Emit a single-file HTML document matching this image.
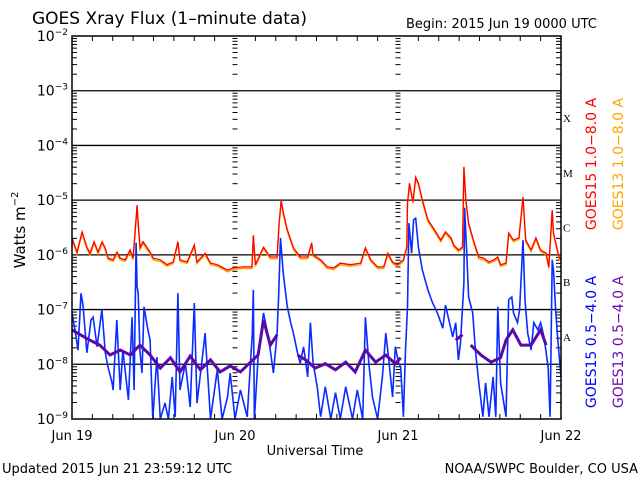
<!DOCTYPE html>
<html><head><meta charset="utf-8">
<style>
html,body{margin:0;padding:0;background:#fff;}
svg{display:block;font-family:"DejaVu Sans","Liberation Sans",sans-serif;}
</style></head>
<body>
<svg id="chart" width="640" height="480" viewBox="0 0 640 480">
<rect x="0" y="0" width="640" height="480" fill="#fff"/>
<text x="32" y="24" font-size="17" fill="#000">GOES Xray Flux (1–minute data)</text>
<text x="406" y="28" font-size="13" fill="#000">Begin:  2015 Jun 19 0000 UTC</text>
<text transform="translate(25,230) rotate(-90)" text-anchor="middle" font-size="15" fill="#000">Watts m<tspan font-size="10" dy="-7">−2</tspan></text>
<text x="315" y="455" text-anchor="middle" font-size="13" fill="#000">Universal Time</text>
<text x="2" y="473" font-size="13" fill="#000">Updated 2015 Jun 21 23:59:12 UTC</text>
<text x="638" y="473" text-anchor="end" font-size="13" fill="#000">NOAA/SWPC Boulder, CO USA</text>
<text transform="translate(596,164) rotate(-90)" text-anchor="middle" font-size="14" fill="#ff0000">GOES15 1.0−8.0 A</text>
<text transform="translate(623,164) rotate(-90)" text-anchor="middle" font-size="14" fill="#ffa500">GOES13 1.0−8.0 A</text>
<text transform="translate(596,342) rotate(-90)" text-anchor="middle" font-size="14" fill="#0000ff">GOES15 0.5−4.0 A</text>
<text transform="translate(623,342) rotate(-90)" text-anchor="middle" font-size="14" fill="#6a0dad">GOES13 0.5−4.0 A</text>
<g id="axes"></g>
<g id="series"></g>
<rect x="72" y="36" width="489" height="383" fill="none" stroke="#000" stroke-width="1.5"/>
</svg>
<script>
const dayLabels = ["Jun 19","Jun 20","Jun 21","Jun 22"];
const decadeExps = [-2,-3,-4,-5,-6,-7,-8,-9];
const classLetters = ["X","M","C","B","A"];
const classExps = [-3.5,-4.5,-5.5,-6.5,-7.5];

const redHours = [0,0.74,1.48,2.2,2.65,3.25,3.84,4.43,4.87,5.31,6.05,6.64,7.08,7.82,8.56,9.0,9.59,9.74,10.03,10.47,11.5,11.95,12.98,14.0,14.9,15.6,15.9,16.96,18.0,18.4,19.6,20.4,21.4,22.3,22.9,23.7,25.2,26.5,26.7,27.0,28.2,29.2,30.2,30.5,30.8,31.1,31.7,32.6,33.6,34.7,35.3,35.5,36.6,37.6,38.5,39.5,41.0,42.5,43.2,44.0,45.0,45.9,46.5,47.2,47.9,48.8,49.3,49.4,49.7,50.2,50.6,51.0,51.6,52.4,53.2,54.3,55.0,55.8,56.2,56.9,57.5,57.7,58.0,58.4,59.1,59.9,60.6,61.4,62.1,62.7,63.1,63.9,64.3,65.0,65.8,66.4,66.8,67.6,68.3,69.0,69.8,70.2,70.7,70.9,71.7,72];
const redLog = [-5.69,-5.95,-5.58,-5.86,-5.97,-5.76,-5.95,-5.76,-5.87,-6.06,-6.09,-5.95,-6.06,-6.09,-5.91,-6.06,-5.09,-5.42,-5.87,-5.76,-5.95,-6.06,-6.09,-6.18,-6.13,-5.76,-6.09,-6.13,-5.82,-6.13,-5.97,-6.15,-6.18,-6.24,-6.28,-6.24,-6.22,-6.22,-5.64,-6.18,-5.86,-6.04,-6.04,-5.42,-5.0,-5.22,-5.54,-5.87,-6.04,-6.04,-5.78,-6.0,-6.09,-6.22,-6.24,-6.15,-6.18,-6.15,-5.87,-6.09,-6.22,-6.22,-5.97,-6.13,-6.18,-6.09,-5.86,-5.05,-4.69,-5.03,-4.58,-4.69,-5.0,-5.36,-5.51,-5.73,-5.58,-5.69,-5.82,-5.91,-5.86,-4.39,-5.0,-5.42,-5.73,-6.04,-6.06,-6.13,-6.09,-6.04,-6.18,-6.15,-5.6,-5.73,-5.69,-4.94,-5.73,-5.91,-5.69,-5.91,-5.97,-6.22,-5.18,-5.6,-6.04,-6.09];

const orangeHours = [0,0.74,1.48,2.2,2.65,3.25,3.84,4.43,4.87,5.31,6.05,6.64,7.08,7.82,8.56,9.0,9.59,9.74,10.03,10.47,11.5,11.95,12.98,14.0,14.9,15.6,15.9,16.96,18.0,18.4,19.6,20.4,21.4,22.3,22.9,23.7,25.2,26.5,26.7,27.0,28.2,29.2,30.2,30.5,30.8,31.1,31.7,32.6,33.6,34.7,35.3,35.5,36.6,37.6,38.5,39.5,41.0,42.5,43.2,44.0,45.0,45.9,46.5,47.2,47.9,48.8,49.3,49.4,49.7,50.2,50.6,51.0,51.6,52.4,53.2,54.3,55.0,55.8,56.2,56.9,57.5,57.7,58.0,58.4,59.1,59.9,60.6,61.4,62.1,62.7,63.1,63.9,64.3,65.0,65.8,66.4,66.8,67.6,68.3,69.0,69.8,70.2,70.7,70.9,71.7,72];
const orangeLog = [-5.72,-5.98,-5.61,-5.89,-6.0,-5.79,-5.98,-5.79,-5.9,-6.09,-6.12,-5.98,-6.09,-6.12,-5.94,-6.09,-5.12,-5.45,-5.9,-5.79,-5.98,-6.09,-6.12,-6.21,-6.16,-5.79,-6.12,-6.16,-5.85,-6.16,-6.0,-6.18,-6.21,-6.27,-6.31,-6.27,-6.25,-6.25,-5.67,-6.21,-5.89,-6.07,-6.07,-5.45,-5.03,-5.25,-5.57,-5.9,-6.07,-6.07,-5.81,-6.03,-6.12,-6.25,-6.27,-6.18,-6.21,-6.18,-5.9,-6.12,-6.25,-6.25,-6.0,-6.16,-6.21,-6.12,-5.89,-5.08,-4.72,-5.06,-4.61,-4.72,-5.03,-5.39,-5.54,-5.76,-5.61,-5.72,-5.85,-5.94,-5.89,-4.42,-5.03,-5.45,-5.76,-6.07,-6.09,-6.16,-6.12,-6.07,-6.21,-6.18,-5.63,-5.76,-5.72,-4.97,-5.76,-5.94,-5.72,-5.94,-6.0,-6.25,-5.21,-5.63,-6.07,-6.12];

const blueHours = [0,0.44,0.89,1.33,1.62,2.2,2.8,3.1,3.7,4.4,4.9,5.3,5.9,6.05,6.6,7.1,7.5,8.3,8.85,9.15,9.44,9.59,9.74,10.0,10.3,10.6,11.1,11.5,11.9,12.5,13.0,13.7,14.2,14.75,15.2,15.6,15.9,16.7,17.4,18.0,18.4,19.2,19.6,20.4,21.4,22.1,22.9,23.3,24.0,24.8,25.8,26.55,26.7,26.85,27.4,28.2,28.8,29.2,29.65,30.2,30.4,30.7,31.1,31.7,32.2,32.6,33.2,33.6,34.1,34.7,35.1,35.5,36.1,36.6,37.3,38.1,38.8,39.5,40.3,41.3,42.0,42.8,43.2,43.7,44.25,45.0,45.7,46.2,46.6,47.2,47.6,48.1,48.4,48.8,49.1,49.4,49.6,50.0,50.3,50.6,51.0,51.6,52.4,53.1,53.8,54.6,55.0,55.5,56.05,56.5,56.9,57.2,57.7,57.8,58.1,58.4,59.0,59.4,59.9,60.5,60.9,61.4,62.0,62.4,62.7,63.1,63.9,64.3,64.75,65.0,65.6,65.9,66.4,66.7,67.1,67.6,68.0,68.6,69.0,69.5,70.1,70.4,70.7,70.9,71.2,71.5,72.0];
const blueLog = [-7.06,-7.37,-7.74,-6.70,-6.92,-7.79,-7.19,-7.14,-7.68,-7.0,-7.79,-8.05,-8.34,-8.47,-7.19,-8.47,-7.74,-8.65,-7.14,-8.47,-5.78,-6.59,-6.70,-7.74,-8.16,-6.95,-7.32,-7.56,-9,-7.87,-9,-8.71,-9,-8.23,-8.96,-6.70,-8.47,-7.98,-8.78,-6.88,-8.71,-7.87,-7.43,-9,-8.1,-9,-8.6,-8.16,-9,-8.47,-8.96,-7.43,-6.64,-9,-7.87,-7.06,-7.43,-7.74,-8.16,-7.43,-6.82,-5.69,-6.33,-6.95,-7.24,-7.43,-7.79,-7.98,-7.68,-8.23,-7.24,-7.98,-8.41,-8.96,-8.41,-9,-8.52,-9,-8.41,-9,-8.47,-9,-7.14,-7.98,-8.6,-9,-8.23,-7.43,-7.87,-8.6,-7.68,-7.98,-8.05,-8.96,-7.74,-6.95,-5.42,-5.97,-5.36,-5.33,-5.86,-6.28,-6.64,-6.88,-7.06,-7.34,-6.92,-7.19,-7.5,-7.24,-7.92,-7.61,-6.51,-5.14,-5.91,-6.77,-7.06,-7.74,-8.34,-8.96,-8.34,-8.96,-8.23,-8.96,-6.95,-8.34,-8.96,-6.82,-6.77,-7.06,-7.24,-7.0,-5.73,-6.82,-7.43,-7.74,-7.24,-7.37,-7.24,-7.5,-8.05,-8.96,-6.09,-6.28,-7.0,-7.5,-8.23];

const purpleHours = [0,1.2,2.65,4.1,5.6,7.1,8.6,10.0,11.5,13.0,14.5,15.9,17.4,18.9,20.4,21.8,23.3,24.8,26.3,27.4,28.2,29.2,30.2,null,33.2,34.4,35.8,37.3,38.8,40.3,41.7,43.2,44.7,46.2,47.6,48.4,null,56.5,57.5,null,58.7,60.2,61.7,63.1,63.9,64.9,66.1,67.6,69.0,69.8];
const purpleLog = [-7.37,-7.46,-7.56,-7.65,-7.83,-7.74,-7.83,-7.65,-7.83,-8.07,-7.88,-8.14,-7.85,-8.1,-7.92,-8.14,-8.03,-8.14,-7.96,-7.83,-7.19,-7.65,-7.46,null,-7.83,-7.92,-8.07,-7.99,-8.1,-7.96,-8.14,-7.74,-7.96,-7.83,-7.99,-7.88,null,-7.56,-7.46,null,-7.65,-7.83,-7.96,-7.88,-7.56,-7.37,-7.65,-7.65,-7.37,-7.65];

const NS = "http://www.w3.org/2000/svg";
const X0 = 72, X1 = 561, Y0 = 419, Y1 = 36;
function xScale(h){ return X0 + (h/72)*(X1-X0); }
function yScale(e){ return Y0 - (e+9)/7*(Y0-Y1); }
const axes = document.getElementById("axes");
const series = document.getElementById("series");
function mk(tag, attrs, parent){
  const el = document.createElementNS(NS, tag);
  for (const k in attrs) el.setAttribute(k, attrs[k]);
  parent.appendChild(el);
  return el;
}
decadeExps.forEach(e => {
  const y = yScale(e);
  if (e > -9 && e < -2) {
    const g = mk("line", {x1:X0, x2:X1, y1:y, y2:y, stroke:"#000", "stroke-width":1.3}, axes);
    
    
  }
  const t = mk("text", {x:68, y:y+5, "text-anchor":"end", "font-size":14, fill:"#000"}, axes);
  
  
  t.textContent = "10";
  const s = mk("tspan", {dy:-6, "font-size":9}, t);
  s.textContent = "−" + (-e);
  if (e > -9) {
    for (let m = 2; m <= 9; m++) {
      const ym = yScale(e - 1 + Math.log10(m));
      const len = 5;
      [[X0, X0+len],[X1-len, X1]].forEach(p => {
        const tk = mk("line", {x1:p[0], x2:p[1], y1:ym, y2:ym, stroke:"#000", "stroke-width":1}, axes);
        
        
      });
      [24, 48].forEach(d => {
        const xd = xScale(d);
        const tk = mk("line", {x1:xd-2.5, x2:xd+2.5, y1:ym, y2:ym, stroke:"#000", "stroke-width":1}, axes);
        
        
      });
    }
  }
});
for (let h = 3; h < 72; h += 3) {
  const x = xScale(h);
  if (h % 24 !== 0) {
    const a = mk("line", {x1:x, x2:x, y1:Y0, y2:Y0-5, stroke:"#000", "stroke-width":1}, axes);
    
    
    const b = mk("line", {x1:x, x2:x, y1:Y1, y2:Y1+5, stroke:"#000", "stroke-width":1}, axes);
    
    
  }
}
dayLabels.forEach((lab, i) => {
  const t = mk("text", {x:xScale(i*24), y:440, "text-anchor":"middle", "font-size":13, fill:"#000"}, axes);
  
  
  t.textContent = lab;
});
classLetters.forEach((c, i) => {
  const t = mk("text", {x:563, y:yScale(classExps[i])+4, "font-size":11, fill:"#000", "font-family":"Liberation Serif, serif"}, axes);
  
  
  t.textContent = c;
});
function drawSeries(hours, vals, color, width, name){
  let d = "", pen = false;
  for (let i = 0; i < hours.length; i++) {
    if (hours[i] === null || vals[i] === null) { pen = false; continue; }
    const x = xScale(hours[i]).toFixed(1), y = yScale(Math.max(vals[i], -9)).toFixed(1);
    d += (pen ? "L" : "M") + x + " " + y + " ";
    pen = true;
  }
  const p = mk("path", {d:d, fill:"none", stroke:color, "stroke-width":width, "stroke-linejoin":"miter"}, series);
  
  
}
drawSeries(blueHours, blueLog, "#0a2cff", 1.6, "series-goes15-short");
drawSeries(purpleHours, purpleLog, "#5a0aa8", 3, "series-goes13-short");
drawSeries(orangeHours, orangeLog, "#ffa500", 1.5, "series-goes13-long");
drawSeries(redHours, redLog, "#ff0000", 1.3, "series-goes15-long");
</script>
</body></html>
